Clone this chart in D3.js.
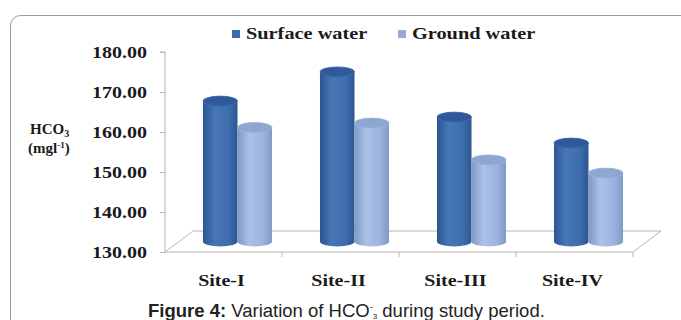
<!DOCTYPE html>
<html>
<head>
<meta charset="utf-8">
<script src="https://cdn.jsdelivr.net/npm/d3@7"></script>
<style>
  body { margin: 0; background: #fff; }
  svg { display: block; }
</style>
</head>
<body>
<div class="chart"></div>
<script>
var sites = ["Site-I", "Site-II", "Site-III", "Site-IV"],
    series = ["Surface water", "Ground water"],
    surfaceValues = [165.1, 172.4, 161.1, 154.6],
    groundValues = [158.5, 159.6, 150.4, 147.1],
    yTicks = [130, 140, 150, 160, 170, 180];

var width = 681,
    height = 320,
    depthX = 28,
    depthY = 21,
    ry = 5,
    stretch = 1.25;

var colors = {
    "Surface water": { dark: "#2c5690", mid: "#4777b7", light: "#3e6dad", top: "#30599a", key: "#3f6bb0" },
    "Ground water": { dark: "#8098c6", mid: "#abc2e8", light: "#9bb3dd", top: "#8ea7d2", key: "#95acd8" }
};

var svg = d3.select(".chart").append("svg")
    .attr("width", width)
    .attr("height", height);

var defs = svg.append("defs");
series.forEach(function(s, i) {
    var g = defs.append("linearGradient")
        .attr("id", "grad" + i)
        .attr("x1", 0).attr("x2", 1).attr("y1", 0).attr("y2", 0);
    g.append("stop").attr("offset", "0%").attr("stop-color", colors[s].dark);
    g.append("stop").attr("offset", "35%").attr("stop-color", colors[s].mid);
    g.append("stop").attr("offset", "75%").attr("stop-color", colors[s].light);
    g.append("stop").attr("offset", "100%").attr("stop-color", colors[s].dark);
});

// frame
svg.append("rect")
    .attr("x", 10.5).attr("y", 15.5)
    .attr("width", 720).attr("height", 360)
    .attr("rx", 10)
    .style("fill", "none")
    .style("stroke", "#9a9a9a");

var x = d3.scaleBand()
    .domain(sites)
    .range([165, 633])
    .paddingInner(0.41)
    .paddingOuter(0.205);

var xSeries = d3.scaleBand()
    .domain(series)
    .range([0, x.bandwidth()]);

var y = d3.scaleLinear()
    .domain([130, 180])
    .range([252, 52]);

// serif texts are drawn wider, like the picture
function widen(sel, k) {
    sel.each(function() {
        var w = this.getComputedTextLength();
        d3.select(this)
            .attr("textLength", w * (k || stretch))
            .attr("lengthAdjust", "spacingAndGlyphs");
    });
}

var serif = "'Liberation Serif', 'Times New Roman', serif";

// floor
var x0 = x.range()[0], x1 = x.range()[1], yf = y(130);
svg.append("path")
    .attr("d", "M" + x0 + "," + yf + "L" + (x0 + depthX) + "," + (yf - depthY) +
               "L" + (x1 + depthX) + "," + (yf - depthY) + "L" + x1 + "," + yf + "Z")
    .style("fill", "none")
    .style("stroke", "#b5b5b5");

for (i = 1; i <= sites.length; i++) {
    var tx = x0 + i * x.step();
    svg.append("line")
        .attr("x1", tx).attr("x2", tx)
        .attr("y1", yf).attr("y2", yf + 5)
        .style("stroke", "#b5b5b5");
}

// y axis
var yAxis = d3.axisLeft(y)
    .tickValues(yTicks)
    .tickSize(5)
    .tickPadding(13)
    .tickFormat(d3.format(".2f"));

var ag = svg.append("g")
    .attr("transform", "translate(" + x0 + ",0)")
    .call(yAxis);
ag.select(".domain").attr("d", "M-5," + y(180) + "H0V" + yf).style("stroke", "#b5b5b5");
ag.selectAll(".tick line").style("stroke", "#b5b5b5");
ag.selectAll(".tick text")
    .style("font-family", serif)
    .style("font-weight", "bold")
    .style("font-size", "16px")
    .style("fill", "#1a1a1a")
    .call(widen);

// bars (cylinders)
var data = [];
sites.forEach(function(site, i) {
    data.push({ site: site, s: "Surface water", si: 0, v: surfaceValues[i] });
    data.push({ site: site, s: "Ground water", si: 1, v: groundValues[i] });
});

var bars = svg.selectAll(".bar")
    .data(data)
    .enter().append("g")
    .attr("class", "bar");

bars.append("path")
    .attr("d", function(d) {
        var left = x(d.site) + xSeries(d.s) + depthX / 2,
            w = xSeries.bandwidth(),
            rx = w / 2,
            top = y(d.v) - depthY / 2,
            bottom = y(130) - depthY / 2;
        return "M" + left + "," + top + "L" + left + "," + bottom +
               "A" + rx + "," + ry + " 0 0 0 " + (left + w) + "," + bottom +
               "L" + (left + w) + "," + top + "Z";
    })
    .style("fill", function(d) { return "url(#grad" + d.si + ")"; });

bars.append("ellipse")
    .attr("cx", function(d) { return x(d.site) + xSeries(d.s) + depthX / 2 + xSeries.bandwidth() / 2; })
    .attr("cy", function(d) { return y(d.v) - depthY / 2; })
    .attr("rx", xSeries.bandwidth() / 2)
    .attr("ry", ry)
    .style("fill", function(d) { return colors[d.s].top; })
    .style("stroke", function(d) { return colors[d.s].light; })
    .style("stroke-width", 0.8);

// category labels
svg.selectAll(".site")
    .data(sites)
    .enter().append("text")
    .attr("class", "site")
    .attr("x", function(d) { return x(d) + x.bandwidth() / 2 - 2; })
    .attr("y", 286)
    .attr("text-anchor", "middle")
    .style("font-family", serif)
    .style("font-weight", "bold")
    .style("font-size", "16px")
    .style("fill", "#1a1a1a")
    .text(function(d) { return d; })
    .call(widen);

// legend
var legendX = [232, 398];
var lg = svg.selectAll(".legend")
    .data(series)
    .enter().append("g")
    .attr("class", "legend")
    .attr("transform", function(d, i) { return "translate(" + legendX[i] + ",30)"; });
lg.append("rect")
    .attr("width", 8).attr("height", 8)
    .style("fill", function(d) { return colors[d].key; });
lg.append("text")
    .attr("x", 14).attr("y", 9)
    .style("font-family", serif)
    .style("font-weight", "bold")
    .style("font-size", "16px")
    .style("fill", "#1a1a1a")
    .text(function(d) { return d; })
    .call(widen, 1.27);

// y title
var t1 = svg.append("text")
    .attr("x", 30).attr("y", 134)
    .style("font-family", serif)
    .style("font-weight", "bold")
    .style("font-size", "15px")
    .style("fill", "#1a1a1a");
t1.append("tspan").text("HCO");
t1.append("tspan").attr("dy", 3).style("font-size", "10px").text("3");

var t2 = svg.append("text")
    .attr("x", 28).attr("y", 153)
    .style("font-family", serif)
    .style("font-weight", "bold")
    .style("font-size", "15px")
    .style("fill", "#1a1a1a");
t2.append("tspan").text("(mgl");
t2.append("tspan").attr("dy", -5).style("font-size", "9px").text("-1");
t2.append("tspan").attr("dy", 5).text(")");

// caption
var cap = svg.append("text")
    .attr("x", 148).attr("y", 317)
    .style("font-family", "'Liberation Sans', Arial, sans-serif")
    .style("font-size", "18.5px")
    .style("fill", "#222");
cap.append("tspan").style("font-weight", "bold").text("Figure 4:");
cap.append("tspan").text(" Variation of HCO");
cap.append("tspan").attr("dy", -7).style("font-size", "9px").text("-");
cap.append("tspan").attr("dy", 9).style("font-size", "8px").text("3");
cap.append("tspan").attr("dy", -2).text(" during study period.");
</script>
</body>
</html>
